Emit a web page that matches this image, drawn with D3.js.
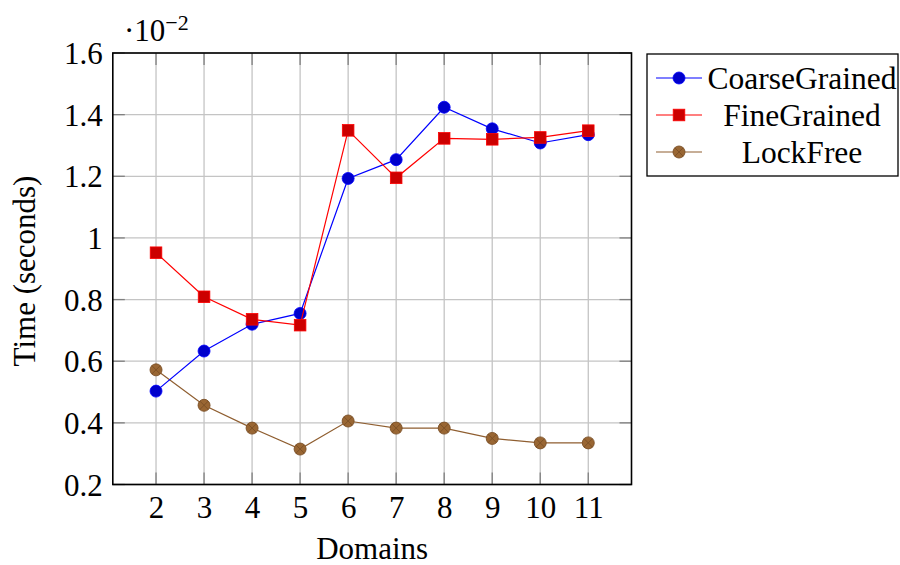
<!DOCTYPE html>
<html><head><meta charset="utf-8">
<script src="https://cdn.jsdelivr.net/npm/d3@7"></script>
<style>body{margin:0;background:#fff}</style>
</head><body><svg id="c" width="900" height="565"></svg>
<script>
const domains = [2,3,4,5,6,7,8,9,10,11];
const coarseGrained = [0.503,0.633,0.720,0.755,1.193,1.254,1.424,1.354,1.308,1.335];
const fineGrained = [0.952,0.809,0.736,0.717,1.349,1.195,1.323,1.320,1.326,1.348];
const lockFree = [0.572,0.457,0.383,0.315,0.406,0.383,0.383,0.3495,0.335,0.335];
const yTicks = [0.2,0.4,0.6,0.8,1,1.2,1.4,1.6];
const seriesNames = ["CoarseGrained","FineGrained","LockFree"];
const FONT = "'Liberation Serif', 'DejaVu Serif', serif";

const svg = d3.select("#c").style("font-family", FONT);
const L=112.8, R=631.5, T=53, B=484.5;
const x = d3.scaleLinear().domain([1.1,11.9]).range([L,R]);
const y = d3.scaleLinear().domain([0.2,1.6]).range([B,T]);

const g = svg.append("g");
g.selectAll(".gx").data(domains).enter().append("line")
  .attr("x1",d=>x(d)).attr("x2",d=>x(d)).attr("y1",T).attr("y2",B)
  .attr("stroke","#c4c4c4").attr("stroke-width",1.3);
g.selectAll(".gy").data(yTicks).enter().append("line")
  .attr("x1",L).attr("x2",R).attr("y1",d=>y(d)).attr("y2",d=>y(d))
  .attr("stroke","#c4c4c4").attr("stroke-width",1.3);

const tl=12;
domains.forEach(d=>{
  g.append("line").attr("x1",x(d)).attr("x2",x(d)).attr("y1",B).attr("y2",B-tl).attr("stroke","#808080").attr("stroke-width",1.3);
  g.append("line").attr("x1",x(d)).attr("x2",x(d)).attr("y1",T).attr("y2",T+tl).attr("stroke","#808080").attr("stroke-width",1.3);
});
yTicks.forEach(d=>{
  g.append("line").attr("x1",L).attr("x2",L+tl).attr("y1",y(d)).attr("y2",y(d)).attr("stroke","#808080").attr("stroke-width",1.3);
  g.append("line").attr("x1",R).attr("x2",R-tl).attr("y1",y(d)).attr("y2",y(d)).attr("stroke","#808080").attr("stroke-width",1.3);
});

const xAxis = d3.axisBottom(x).tickValues(domains).tickSize(0).tickPadding(0).tickFormat(d3.format("d"));
const ax = svg.append("g").attr("transform",`translate(0,${B})`).call(xAxis);
ax.attr("font-family",null).attr("font-size",null);
ax.select(".domain").remove();
ax.selectAll("text").style("font-family",FONT).style("font-size","31px").attr("fill","#000").attr("dy",null).attr("y",33);
const yAxis = d3.axisLeft(y).tickValues(yTicks).tickSize(0).tickPadding(0).tickFormat(d=>String(+d.toFixed(1)));
const ay = svg.append("g").attr("transform",`translate(${L-10},0)`).call(yAxis);
ay.attr("font-family",null).attr("font-size",null);
ay.select(".domain").remove();
ay.selectAll("text").style("font-family",FONT).style("font-size","31px").attr("fill","#000").attr("dy","0.34em");

svg.append("rect").attr("x",L).attr("y",T).attr("width",R-L).attr("height",B-T)
  .attr("fill","none").attr("stroke","#000").attr("stroke-width",1.6);

function txt(sel){ return sel.append("text").style("font-family",FONT).style("font-size","31px").attr("fill","#000"); }

const ex = txt(svg).attr("x",124).attr("y",41);
ex.append("tspan").text("·10");
ex.append("tspan").style("font-size","22px").attr("dy",-11).text("−2");

txt(svg).attr("x",(L+R)/2).attr("y",559).attr("text-anchor","middle").text("Domains");
txt(svg).attr("transform","translate(35,271) rotate(-90)").attr("text-anchor","middle").text("Time (seconds)");

const line = d3.line().x((d,i)=>x(domains[i])).y(d=>y(d));
const styles = [
  {vals:coarseGrained, color:"#0000ff", mark:"circle", fill:"#0000cc", stroke:"#0000ff"},
  {vals:fineGrained, color:"#ff0000", mark:"square", fill:"#cc0000", stroke:"#ff0000"},
  {vals:lockFree, color:"#8f5e30", mark:"otimes", fill:"#996633", stroke:"#7a4f26"}
];
function drawMark(sel, s, cx, cy){
  if(s.mark==="circle"){
    sel.append("circle").attr("cx",cx).attr("cy",cy).attr("r",6).attr("fill",s.fill).attr("stroke",s.stroke).attr("stroke-width",0.8);
  } else if(s.mark==="square"){
    sel.append("rect").attr("x",cx-5.8).attr("y",cy-5.8).attr("width",11.6).attr("height",11.6).attr("fill",s.fill).attr("stroke",s.stroke).attr("stroke-width",0.8);
  } else {
    sel.append("circle").attr("cx",cx).attr("cy",cy).attr("r",6).attr("fill",s.fill).attr("stroke",s.stroke).attr("stroke-width",0.9);
    const r=6/Math.SQRT2;
    sel.append("path").attr("d",`M${cx-r},${cy-r}L${cx+r},${cy+r}M${cx-r},${cy+r}L${cx+r},${cy-r}`).attr("stroke",s.stroke).attr("stroke-width",0.9);
  }
}
[2,0,1].forEach(k=>{
  const s=styles[k];
  const gg=svg.append("g");
  gg.append("path").datum(s.vals).attr("d",line).attr("fill","none").attr("stroke",s.color).attr("stroke-width",1.2);
  s.vals.forEach((v,i)=>drawMark(gg,s,x(domains[i]),y(v)));
});

const lg = svg.append("g");
lg.append("rect").attr("x",647).attr("y",54).attr("width",251).attr("height",122).attr("fill","#fff").attr("stroke","#000").attr("stroke-width",1.3);
const rows=[78,115,152];
seriesNames.forEach((n,i)=>{
  const s=styles[i];
  lg.append("line").attr("x1",656).attr("x2",702).attr("y1",rows[i]).attr("y2",rows[i]).attr("stroke",s.color).attr("stroke-width",1.2);
  drawMark(lg,s,679,rows[i]);
  txt(lg).style("font-size","31.5px").attr("x",802).attr("y",rows[i]).attr("dy","0.34em").attr("text-anchor","middle").text(n);
});
</script></body></html>
